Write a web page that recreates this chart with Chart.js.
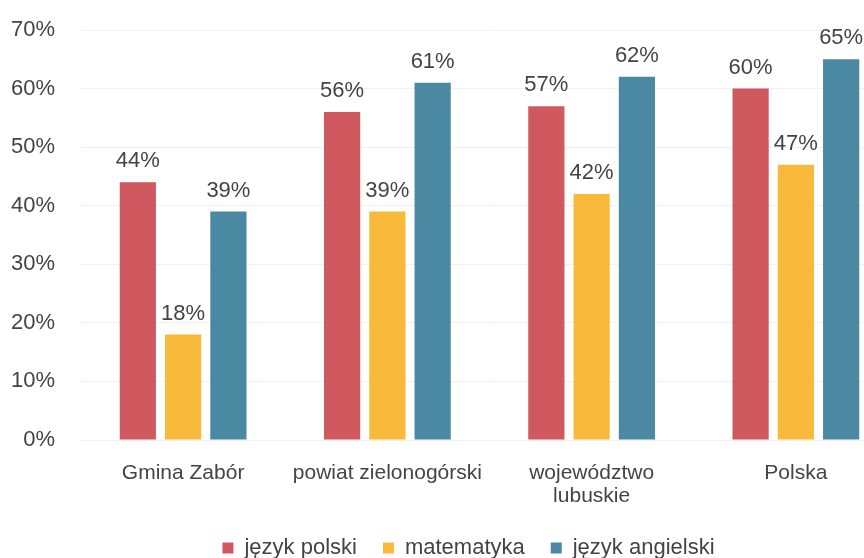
<!DOCTYPE html>
<html>
<head>
<meta charset="utf-8">
<script src="https://cdn.jsdelivr.net/npm/chart.js@4"></script>
<style>
  html, body { margin: 0; padding: 0; background: #fff; overflow: hidden; }
  #wrap { width: 864px; height: 558px; overflow: hidden; }
</style>
</head>
<body>
<div id="wrap"><canvas id="chart" width="905" height="569"></canvas></div>
<script>
// Data
const categories = ['Gmina Zabór', 'powiat zielonogórski', ['województwo', 'lubuskie'], 'Polska'];
const seriesNames = ['język polski', 'matematyka', 'język angielski'];
const polski = [44, 56, 57, 60];
const matematyka = [18, 39, 42, 47];
const angielski = [39, 61, 62, 65];
const yTicks = [0, 10, 20, 30, 40, 50, 60, 70];

const colors = ['#d0585f', '#f9ba3c', '#4a89a1'];
const textColor = '#444';
const fontFamily = "'Liberation Sans', Arial, sans-serif";

// draws "NN%" above every bar
const valueLabels = {
  id: 'valueLabels',
  afterDatasetsDraw(chart) {
    const ctx = chart.ctx;
    ctx.save();
    ctx.font = '22px ' + fontFamily;
    ctx.fillStyle = textColor;
    ctx.textAlign = 'center';
    ctx.textBaseline = 'alphabetic';
    chart.data.datasets.forEach((ds, i) => {
      chart.getDatasetMeta(i).data.forEach((bar, j) => {
        ctx.fillText(ds.data[j] + '%', bar.x, bar.y - 15);
      });
    });
    ctx.restore();
  }
};

// the legend sits a bit right of the canvas centre in the original
const legendShift = {
  id: 'legendShift',
  afterLayout(chart) {
    chart.legend.left += 14;
    chart.legend.right += 14;
  }
};

const seriesData = [polski, matematyka, angielski];

new Chart(document.getElementById('chart'), {
  type: 'bar',
  data: {
    labels: categories,
    datasets: seriesNames.map((name, i) => ({
      label: name,
      data: seriesData[i],
      backgroundColor: colors[i],
      borderWidth: 0,
      barPercentage: 0.8,
      categoryPercentage: 0.665
    }))
  },
  options: {
    responsive: false,
    animation: false,
    layout: { padding: { top: 30, left: 11, right: 7, bottom: 0 } },
    plugins: {
      tooltip: { enabled: false },
      legend: {
        position: 'bottom',
        labels: {
          boxWidth: 11,
          boxHeight: 11,
          padding: 26,
          color: textColor,
          font: { family: fontFamily, size: 22 }
        }
      }
    },
    scales: {
      x: {
        grid: { display: false },
        border: { display: false },
        afterFit: axis => { axis.height = 71; },
        ticks: {
          color: textColor,
          font: { family: fontFamily, size: 21, lineHeight: 1.1 },
          padding: 14,
          maxRotation: 0
        }
      },
      y: {
        min: 0,
        max: 70,
        afterBuildTicks: axis => { axis.ticks = yTicks.map(v => ({ value: v })); },
        afterFit: axis => {
          axis.width = 70;
          axis.paddingTop = 0;
          axis.paddingBottom = 0;
        },
        grid: { color: '#f1f1f1', drawTicks: false },
        border: { display: false },
        ticks: {
          color: textColor,
          font: { family: fontFamily, size: 22 },
          padding: 26,
          callback: v => v + '%'
        }
      }
    }
  },
  plugins: [valueLabels, legendShift]
});
</script>
</body>
</html>
